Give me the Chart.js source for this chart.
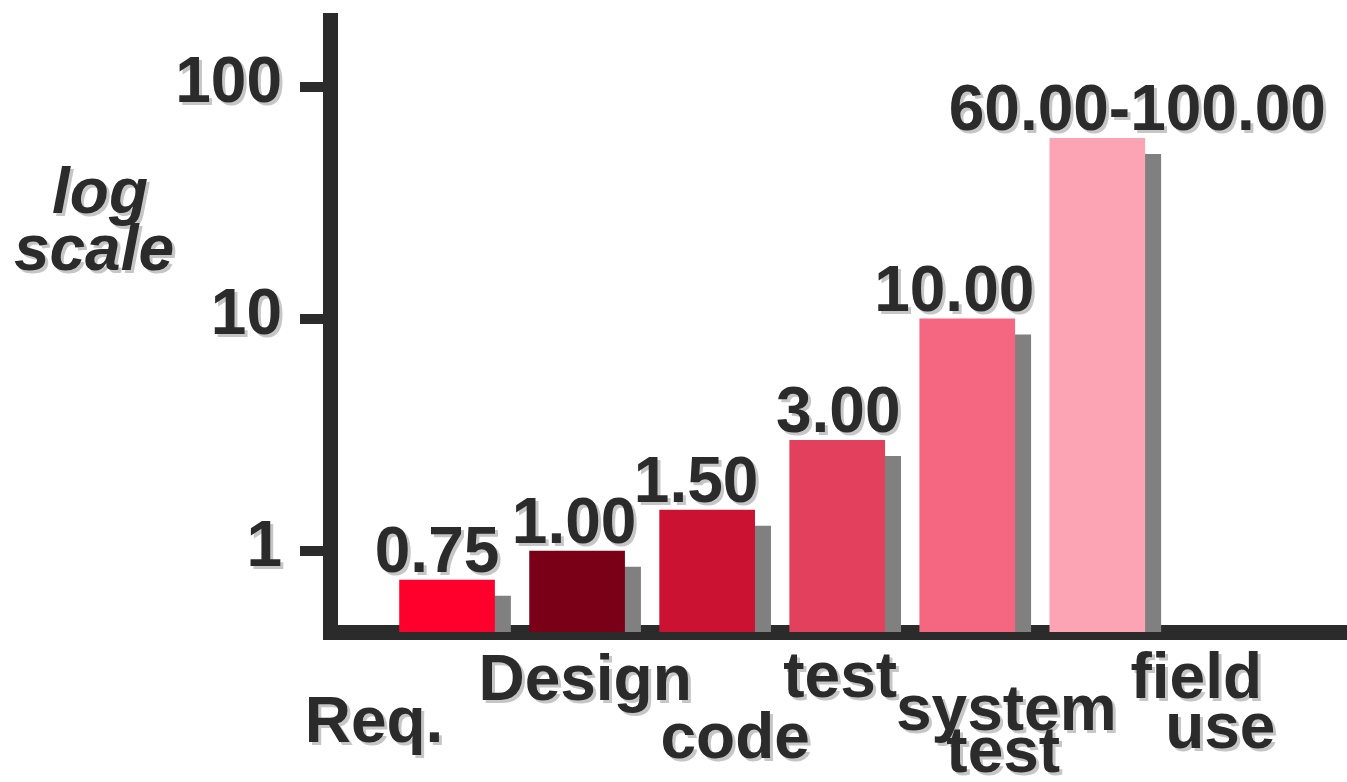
<!DOCTYPE html>
<html>
<head>
<meta charset="utf-8">
<script src="https://cdn.jsdelivr.net/npm/chart.js@4.4.1/dist/chart.umd.min.js"></script>
<style>
  html, body { margin: 0; padding: 0; background: #fff; }
  canvas { display: block; }
</style>
</head>
<body>
<canvas id="costChart" width="1347" height="782"></canvas>
<script>
// relative cost of fixing a defect, by phase
const categories = ['Req.', 'Design', 'code', 'test', ['system', 'test'], ['field', 'use']];
const relativeCost = [0.75, 1.00, 1.50, 3.00, 10.00, 60.00];
const costLabels = ['0.75', '1.00', '1.50', '3.00', '10.00', '60.00-100.00'];
const yTicks = [1, 10, 100];
const barColors = ['#ff002c', '#7a0017', '#cc1232', '#e3405e', '#f56781', '#fda4b4'];

const ink = '#2b2b2b';
const bold = 'bold 64px "Liberation Sans", Arial, sans-serif';

function shadowText(ctx, text, x, y, align, font) {
    ctx.save();
    ctx.font = font || bold;
    ctx.textAlign = align || 'center';
    ctx.textBaseline = 'alphabetic';
    ctx.fillStyle = '#c6c6c6';
    ctx.fillText(text, x + 3, y + 3);
    ctx.fillStyle = ink;
    ctx.fillText(text, x, y);
    ctx.restore();
}

// the original puts its phase names in a staggered, hand placed way
const nameLayout = [
    [{dx: -73, dy: 110}],
    [{dx: 8, dy: 68}],
    [{dx: 28, dy: 126}],
    [{dx: 3, dy: 65}],
    [{dx: 39, dy: 98}, {dx: 36, dy: 140}],
    [{dx: 99, dy: 66}, {dx: 123, dy: 116}]
];
const valueShift = [-10, -3, -11, 1, -13, 40];

const barShadow = {
    id: 'barShadow',
    beforeDatasetsDraw(chart) {
        const ctx = chart.ctx;
        ctx.save();
        ctx.shadowColor = '#808080';
        ctx.shadowOffsetX = 16;
        ctx.shadowOffsetY = 16;
        ctx.shadowBlur = 0;
    },
    afterDatasetsDraw(chart) {
        chart.ctx.restore();
    }
};

const texts = {
    id: 'texts',
    afterDraw(chart) {
        const ctx = chart.ctx;
        const y = chart.scales.y;
        const area = chart.chartArea;

        yTicks.forEach(v => {
            shadowText(ctx, String(v), 282, y.getPixelForValue(v) + 15, 'right');
        });

        const italic = 'italic bold 64px "Liberation Sans", Arial, sans-serif';
        shadowText(ctx, 'log', 100, 213, 'center', italic);
        shadowText(ctx, 'scale', 94, 270, 'center', italic);

        const bars = chart.getDatasetMeta(0).data;
        bars.forEach((bar, i) => {
            shadowText(ctx, costLabels[i], bar.x + valueShift[i], bar.y - 8, 'center');
            const lines = [].concat(categories[i]);
            lines.forEach((line, j) => {
                const p = nameLayout[i][j];
                shadowText(ctx, line, bar.x + p.dx, area.bottom + p.dy, 'center');
            });
        });
    }
};

const ctx = document.getElementById('costChart').getContext('2d');
const costChart = new Chart(ctx, {
    type: 'bar',
    data: {
        datasets: [{
            data: relativeCost.map((v, i) => ({x: i, y: v})),
            backgroundColor: barColors,
            borderWidth: 0,
            barThickness: 95
        }]
    },
    options: {
        responsive: false,
        animation: false,
        devicePixelRatio: 1,
        layout: {
            padding: {top: 20, left: 0, right: 0, bottom: 0}
        },
        plugins: {
            legend: { display: false },
            tooltip: { enabled: false }
        },
        scales: {
            x: {
                type: 'linear',
                offset: false,
                min: -0.9,
                max: 6.92,
                z: 1,
                grid: { display: false },
                ticks: { display: false },
                border: { display: true, color: ink, width: 15 },
                afterFit: s => { s.height = 150; }
            },
            y: {
                type: 'logarithmic',
                min: 0.448,
                max: 194,
                z: 1,
                afterBuildTicks: s => { s.ticks = yTicks.map(v => ({value: v})); },
                grid: {
                    display: true,
                    drawOnChartArea: false,
                    drawTicks: true,
                    tickLength: 30,
                    lineWidth: 10,
                    color: ink
                },
                ticks: { display: false },
                border: { display: true, color: ink, width: 15 },
                afterFit: s => { s.width = 330; }
            }
        }
    },
    plugins: [barShadow, texts]
});
</script>
</body>
</html>
